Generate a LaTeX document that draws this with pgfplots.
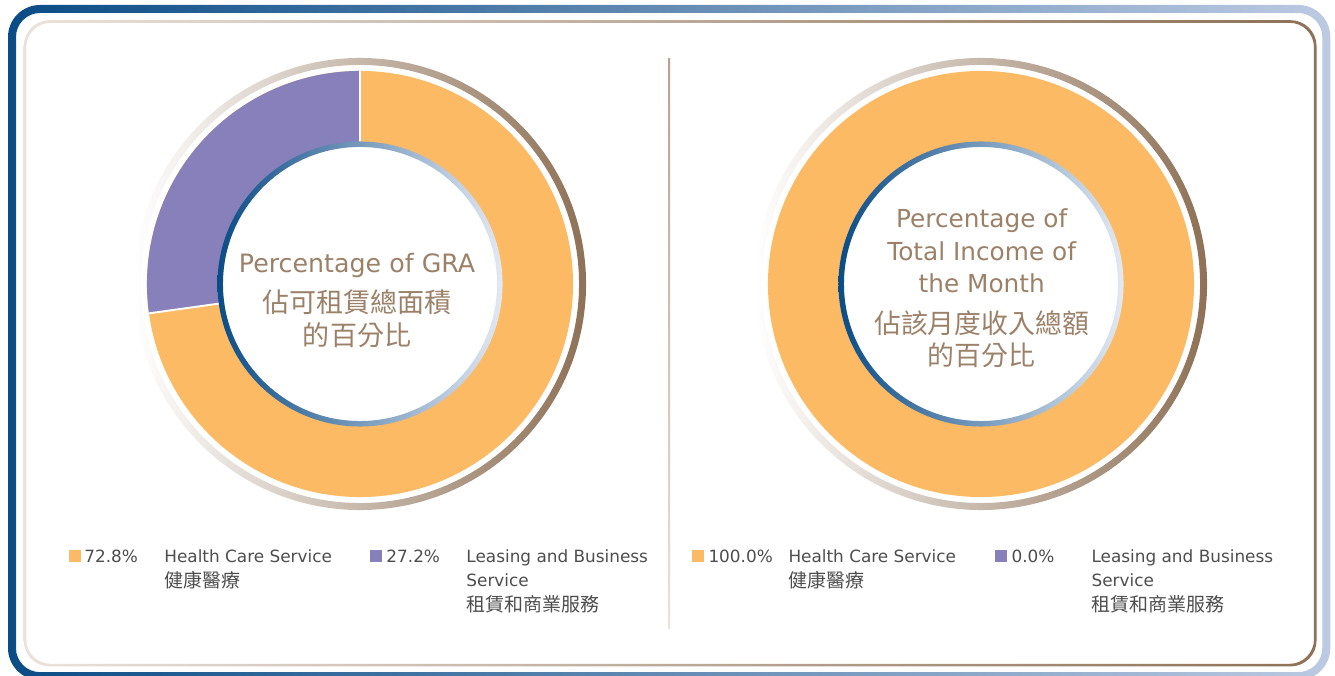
\documentclass[border=0pt]{standalone}
\usepackage{fontspec}
\setmainfont{DejaVu Sans}
\newfontfamily\cjk{Noto Sans CJK TC}
\usepackage{pgfplots}
\pgfplotsset{compat=1.18}
\usepackage{pgfplotstable}

\definecolor{hc}{HTML}{FBBA63}
\definecolor{lb}{HTML}{8780BA}
\definecolor{ttl}{HTML}{9C8169}
\definecolor{lgd}{HTML}{4D4D4D}
\definecolor{navy}{HTML}{0A4C86}
\definecolor{navym}{HTML}{5F86B9}
\definecolor{navyl}{HTML}{BCCAE2}
\definecolor{ringl}{HTML}{E4E9F2}
\definecolor{tan}{HTML}{8E7156}
\definecolor{tanm}{HTML}{CBB9A9}
\definecolor{tanl}{HTML}{EAE2DC}

% shares in percent
\pgfplotstableread{
segment share
health  72.8
leasing 27.2
}\gradata
\pgfplotstableread{
segment share
health  100.0
leasing 0.0
}\incomedata

% ring drawn around axis cs:0,0, radii in px (1px = 0.02cm)
% #1 = angle where the health care slice ends (clockwise from 12 o'clock)
\newcommand{\ring}[1]{%
  \begin{scope}[shift={(axis cs:0,0)}, x=0.02cm, y=0.02cm]
    \shade[left color=white, middle color=tanm, right color=tan, even odd rule]
      (0,0) circle[radius=226] (0,0) circle[radius=219];
    \fill[hc, even odd rule] (0,0) circle[radius=213] (0,0) circle[radius=142];
    \pgfmathparse{#1>-269.9 ? 1 : 0}%
    \ifdim\pgfmathresult pt>0.5pt
      \fill[lb] (#1:213) arc[start angle=#1, end angle=-270, radius=213]
        -- (-270:142) arc[start angle=-270, end angle=#1, radius=142] -- cycle;
      \draw[white, line width=1.1pt] (90:142) -- (90:213);
      \draw[white, line width=1.1pt] (#1:142) -- (#1:213);
    \fi
    \shade[left color=navy, middle color=navym, right color=ringl, even odd rule]
      (0,0) circle[radius=142.5] (0,0) circle[radius=137];
  \end{scope}}

\newcommand{\lgtext}{\fontsize{9.6}{11}\selectfont\color{lgd}}
\newcommand{\lgcjk}{\fontsize{10.8}{12}\selectfont\cjk\color{lgd}}

\begin{document}
\begin{tikzpicture}
\pgfplotstablegetelem{0}{share}\of\gradata
\pgfmathsetmacro{\gA}{90-3.6*\pgfplotsretval}
\pgfplotstablegetelem{0}{share}\of\incomedata
\pgfmathsetmacro{\iA}{90-3.6*\pgfplotsretval}
\begin{scope}[x=0.02cm, y=-0.02cm]
  % outer blue frame
  \shade[left color=navy, middle color=navym, right color=navyl, even odd rule]
    [rounded corners=0.64cm] (8,5) rectangle (1330,680)
    [rounded corners=0.48cm] (16,13) rectangle (1322,672);
  % inner thin frame
  \shade[left color=tanl, middle color=tanm, right color=tan, even odd rule]
    [rounded corners=0.52cm] (23.7,20.2) rectangle (1316.3,666.3)
    [rounded corners=0.49cm] (26.3,22.8) rectangle (1313.7,663.7);
  % divider
  \shade[top color=tan!65!white, bottom color=tanl] (668,58) rectangle (670,628);
\end{scope}

\begin{axis}[at={(7.2cm,-5.68cm)}, anchor=center, hide axis, scale only axis,
  width=9.2cm, height=9.2cm, xmin=-230, xmax=230, ymin=-230, ymax=230, clip=false]
  \ring{\gA}
\end{axis}

\begin{axis}[at={(19.62cm,-5.68cm)}, anchor=center, hide axis, scale only axis,
  width=9.2cm, height=9.2cm, xmin=-230, xmax=230, ymin=-230, ymax=230, clip=false]
  \ring{\iA}
\end{axis}

\begin{scope}[x=0.02cm, y=-0.02cm, every node/.style={inner sep=0pt}]
  % centre titles
  \node[anchor=base, font=\fontsize{14.4}{16}\selectfont, text=ttl] at (357,272) {Percentage of GRA};
  \node[anchor=center, font=\fontsize{15.4}{17}\selectfont\cjk, text=ttl] at (357,302.5) {佔可租賃總面積};
  \node[anchor=center, font=\fontsize{15.4}{17}\selectfont\cjk, text=ttl] at (357,335) {的百分比};

  \node[anchor=base, font=\fontsize{14.1}{16}\selectfont, text=ttl] at (981.5,227) {Percentage of};
  \node[anchor=base, font=\fontsize{14.1}{16}\selectfont, text=ttl] at (981.5,260) {Total Income of};
  \node[anchor=base, font=\fontsize{14.1}{16}\selectfont, text=ttl] at (981.5,292) {the Month};
  \node[anchor=center, font=\fontsize{15.3}{17}\selectfont\cjk, text=ttl] at (981.5,323.5) {佔該月度收入總額};
  \node[anchor=center, font=\fontsize{15.3}{17}\selectfont\cjk, text=ttl] at (981.5,355) {的百分比};

  % legends
  \fill[hc] (69,550) rectangle (81,562);
  \node[anchor=base west, font=\lgtext] at (84,562) {72.8\%};
  \node[anchor=base west, font=\lgtext] at (164,562) {Health Care Service};
  \node[anchor=west, font=\lgcjk] at (164,580) {健康醫療};
  \fill[lb] (370,550) rectangle (382,562);
  \node[anchor=base west, font=\lgtext] at (386,562) {27.2\%};
  \node[anchor=base west, font=\lgtext] at (466,562) {Leasing and Business};
  \node[anchor=base west, font=\lgtext] at (466,586) {Service};
  \node[anchor=west, font=\lgcjk] at (466,604) {租賃和商業服務};

  \fill[hc] (692,550) rectangle (704,562);
  \node[anchor=base west, font=\lgtext] at (708,562) {100.0\%};
  \node[anchor=base west, font=\lgtext] at (788,562) {Health Care Service};
  \node[anchor=west, font=\lgcjk] at (788,580) {健康醫療};
  \fill[lb] (995,550) rectangle (1007,562);
  \node[anchor=base west, font=\lgtext] at (1011,562) {0.0\%};
  \node[anchor=base west, font=\lgtext] at (1091,562) {Leasing and Business};
  \node[anchor=base west, font=\lgtext] at (1091,586) {Service};
  \node[anchor=west, font=\lgcjk] at (1091,604) {租賃和商業服務};
\end{scope}
\pgfresetboundingbox
\path[use as bounding box] (0,0) rectangle (26.7cm,-13.52cm);
\end{tikzpicture}
\end{document}
